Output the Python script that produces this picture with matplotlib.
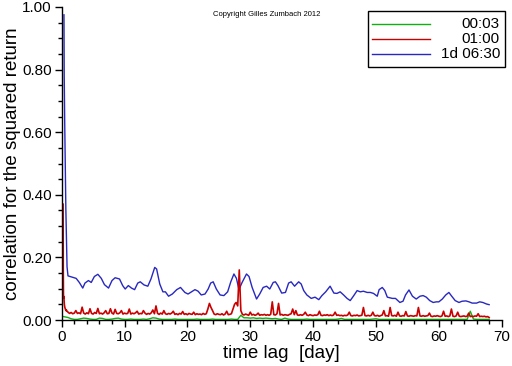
import numpy as np
import matplotlib
matplotlib.use("Agg")
import matplotlib.pyplot as plt
from matplotlib.lines import Line2D
from matplotlib.patches import Rectangle
from matplotlib.ticker import MultipleLocator, FormatStrFormatter

plt.rcParams["font.family"] = "Liberation Sans"

# ---------------------------------------------------------------------------
# Data
# ---------------------------------------------------------------------------

series_labels = ["00:03", "01:00", "1d 06:30"]
series_colors = ["#10b010", "#c80000", "#2828c0"]

# 1d 06:30 returns
blue_lag = [
    0.36, 0.4, 0.48, 0.66, 0.85, 1.0, 2.3, 2.8, 3.35, 3.7,
    4.25, 4.7, 5.2, 5.75, 6.3, 6.8, 7.45, 8.0, 8.5, 9.2,
    9.7, 10.1, 10.6, 11.1, 11.6, 12.1, 12.5, 13.1, 13.7, 14.2,
    14.8, 15.1, 15.6, 16.1, 16.5, 17.0, 17.6, 18.3, 18.9, 19.6,
    20.1, 20.65, 21.2, 21.7, 22.2, 22.8, 23.3, 23.7, 24.1, 24.6,
    25.2, 25.8, 26.4, 26.9, 27.4, 27.8, 28.2, 28.7, 29.4, 29.8,
    30.3, 31.0, 31.5, 32.05, 32.6, 33.1, 33.65, 34.0, 34.4, 35.0,
    35.6, 36.1, 36.5, 37.05, 37.7, 38.1, 38.5, 39.0, 39.7, 40.3,
    40.9, 41.4, 42.0, 42.7, 43.3, 43.8, 44.3, 44.85, 45.4, 45.9,
    46.4, 47.0, 47.5, 48.0, 48.6, 49.1, 49.6, 50.2, 50.5, 51.0,
    51.4, 51.8, 52.6, 53.1, 53.8, 54.3, 54.7, 55.25, 55.8, 56.4,
    57.0, 57.5, 58.0, 58.55, 59.1, 59.6, 60.0, 60.55, 61.1, 61.6,
    62.05, 62.6, 63.2, 63.7, 64.3, 64.8, 65.3, 66.0, 66.5, 67.0,
    67.6, 68.0,
]
blue_corr = [
    0.975, 0.78, 0.63, 0.355, 0.17, 0.141, 0.133, 0.120, 0.102, 0.118,
    0.126, 0.120, 0.139, 0.146, 0.133, 0.113, 0.102, 0.126, 0.135, 0.131,
    0.110, 0.099, 0.110, 0.102, 0.097, 0.118, 0.122, 0.112, 0.108, 0.131,
    0.168, 0.163, 0.115, 0.090, 0.090, 0.076, 0.083, 0.097, 0.104, 0.088,
    0.083, 0.090, 0.097, 0.092, 0.080, 0.083, 0.099, 0.118, 0.122, 0.099,
    0.080, 0.078, 0.090, 0.122, 0.147, 0.133, 0.097, 0.120, 0.147, 0.139,
    0.104, 0.067, 0.083, 0.104, 0.108, 0.099, 0.120, 0.122, 0.110, 0.086,
    0.088, 0.118, 0.122, 0.108, 0.122, 0.115, 0.094, 0.080, 0.069, 0.073,
    0.065, 0.078, 0.090, 0.108, 0.086, 0.085, 0.090, 0.080, 0.069, 0.062,
    0.076, 0.094, 0.090, 0.092, 0.088, 0.088, 0.085, 0.076, 0.097, 0.104,
    0.094, 0.073, 0.069, 0.069, 0.056, 0.060, 0.080, 0.096, 0.076, 0.067,
    0.076, 0.078, 0.073, 0.062, 0.056, 0.058, 0.058, 0.067, 0.080, 0.088,
    0.076, 0.062, 0.056, 0.060, 0.061, 0.058, 0.054, 0.054, 0.058, 0.056,
    0.051, 0.049,
]

# 01:00 returns: first day at hourly lags, then every 6 hours
red_lag_first_day = [0.22, 0.25, 0.28, 0.31, 0.34, 0.38, 0.42,
                     0.46, 0.5, 0.58, 0.67, 0.75, 0.83, 0.92]
red_corr_first_day = [0.37, 0.16, 0.08, 0.07, 0.075, 0.06, 0.05,
                      0.045, 0.04, 0.035, 0.03, 0.032, 0.028, 0.027]
red_corr = [
    0.025, 0.021, 0.024, 0.020, 0.022, 0.030, 0.021, 0.023, 0.020, 0.041,  # 1 - 3.75
    0.022, 0.019, 0.023, 0.020, 0.036, 0.021, 0.019, 0.024, 0.021, 0.037,
    0.020, 0.022, 0.019, 0.023, 0.030, 0.020, 0.021, 0.036, 0.022, 0.019,
    0.034, 0.021, 0.020, 0.023, 0.030, 0.019, 0.022, 0.020, 0.021, 0.035,
    0.019, 0.022, 0.020, 0.023, 0.028, 0.019, 0.021, 0.020, 0.030, 0.022,
    0.018, 0.021, 0.019, 0.023, 0.032, 0.020, 0.045, 0.021, 0.018, 0.022,
    0.019, 0.030, 0.020, 0.018, 0.021, 0.019, 0.022, 0.028, 0.018, 0.020,
    0.017, 0.021, 0.019, 0.027, 0.018, 0.020, 0.017, 0.021, 0.019, 0.018,
    0.025, 0.017, 0.020, 0.018, 0.019, 0.017, 0.021, 0.018, 0.020, 0.035,
    0.053, 0.040, 0.030, 0.019, 0.017, 0.020, 0.018, 0.017, 0.020, 0.016,
    0.019, 0.028, 0.017, 0.018, 0.020, 0.035, 0.050, 0.056, 0.045, 0.160,
    0.030, 0.018, 0.016, 0.019, 0.017, 0.015, 0.025, 0.016, 0.018, 0.015,
    0.017, 0.022, 0.015, 0.017, 0.016, 0.018, 0.015, 0.017, 0.015, 0.018,
    0.058, 0.017, 0.016, 0.020, 0.053, 0.016, 0.018, 0.015, 0.017, 0.016,
    0.015, 0.018, 0.020, 0.035, 0.017, 0.030, 0.016, 0.015, 0.017, 0.015,
    0.018, 0.025, 0.016, 0.014, 0.017, 0.015, 0.014, 0.016, 0.015, 0.017,
    0.028, 0.015, 0.014, 0.016, 0.015, 0.017, 0.014, 0.016, 0.014, 0.016,
    0.025, 0.015, 0.016, 0.014, 0.015, 0.013, 0.015, 0.014, 0.016, 0.025,
    0.014, 0.013, 0.015, 0.014, 0.016, 0.013, 0.014, 0.015, 0.040, 0.014,
    0.013, 0.015, 0.013, 0.015, 0.025, 0.014, 0.013, 0.015, 0.012, 0.014,
    0.016, 0.030, 0.013, 0.014, 0.012, 0.040, 0.014, 0.013, 0.015, 0.012,
    0.025, 0.013, 0.012, 0.014, 0.013, 0.027, 0.013, 0.012, 0.014, 0.013,
    0.012, 0.014, 0.013, 0.040, 0.013, 0.012, 0.014, 0.012, 0.013, 0.014,
    0.022, 0.012, 0.011, 0.013, 0.012, 0.014, 0.012, 0.011, 0.013, 0.028,
    0.012, 0.013, 0.011, 0.013, 0.035, 0.012, 0.011, 0.013, 0.025, 0.012,
    0.011, 0.012, 0.013, 0.011, 0.012, 0.022, 0.011, 0.012, 0.011, 0.013,
    0.012, 0.020, 0.011, 0.012, 0.011, 0.012, 0.010, 0.011, 0.008,
]
red_lag = red_lag_first_day + list(np.arange(1.0, 68.01, 0.25))
red_corr = red_corr_first_day + red_corr

# 00:03 returns, every half day
green_lag = list(np.arange(0.0, 68.01, 0.5))
green_corr = [
    0.012, 0.010, 0.008, 0.004, 0.002, 0.002, 0.004, 0.006, 0.005, 0.003,
    0.002, 0.002, 0.006, 0.005, 0.002, 0.002, 0.003, 0.005, 0.006, 0.003,
    0.002, 0.002, 0.003, 0.002, 0.002, 0.002, 0.003, 0.002, 0.004, 0.007,
    0.006, 0.003, 0.002, 0.002, 0.002, 0.002, 0.003, 0.002, 0.002, 0.002,
    0.002, 0.002, 0.002, 0.003, 0.002, 0.002, 0.002, 0.002, 0.003, 0.002,
    0.002, 0.002, 0.002, 0.002, 0.003, 0.002, 0.002, 0.015, 0.007, 0.007,
    0.006, 0.007, 0.005, 0.006, 0.005, 0.006, 0.005, 0.004, 0.005, 0.003,
    0.002, 0.006, 0.003, 0.002, 0.002, 0.002, 0.002, 0.002, 0.003, 0.002,
    0.002, 0.002, 0.002, 0.002, 0.002, 0.002, 0.002, 0.002, 0.003, 0.005,
    0.002, 0.002, 0.002, 0.002, 0.002, 0.002, 0.002, 0.002, 0.002, 0.003,
    0.004, 0.002, 0.002, 0.002, 0.002, 0.002, 0.002, 0.002, 0.002, 0.002,
    0.002, 0.002, 0.002, 0.002, 0.002, 0.002, 0.002, 0.002, 0.002, 0.002,
    0.002, 0.002, 0.002, 0.002, 0.002, 0.002, 0.002, 0.002, 0.002, 0.002,
    0.028, 0.003, 0.002, 0.002, 0.002, 0.002, 0.002,
]

# ---------------------------------------------------------------------------
# Figure
# ---------------------------------------------------------------------------

W, H = 512, 366
fig = plt.figure(figsize=(W / 100, H / 100), dpi=100)
ax = fig.add_axes([61.7 / W, 1 - 320 / H, 440 / W, 313 / H])

ax.plot(blue_lag, blue_corr, color=series_colors[2], linewidth=1.0, zorder=2)
ax.plot(green_lag, green_corr, color=series_colors[0], linewidth=1.0, zorder=2)
ax.plot(red_lag, red_corr, color=series_colors[1], linewidth=1.2, zorder=2)

ax.set_xlim(0, 70)
ax.set_ylim(0, 1.0)
ax.xaxis.set_major_locator(MultipleLocator(10))
ax.xaxis.set_minor_locator(MultipleLocator(2))
ax.yaxis.set_major_locator(MultipleLocator(0.2))
ax.yaxis.set_minor_locator(MultipleLocator(0.05))
ax.yaxis.set_major_formatter(FormatStrFormatter("%.2f"))

for side in ("top", "right"):
    ax.spines[side].set_visible(False)
for side in ("left", "bottom"):
    ax.spines[side].set_linewidth(1.0)
    ax.spines[side].set_color("black")

ax.tick_params(which="major", direction="out", length=5, width=1,
               labelsize=11, pad=2)
ax.tick_params(which="minor", direction="out", length=3, width=1)

ax.set_xlabel("time lag  [day]", fontsize=13.5, labelpad=1)
ax.set_ylabel("correlation for the squared return", fontsize=13.5, labelpad=1)

fig.text(267 / W, 1 - 15 / H, "Copyright Gilles Zumbach 2012",
         ha="center", va="center", fontsize=5.5)

# --- legend box drawn by hand (labels are right aligned) ---
bx0, by0, bx1, by1 = 368, 11, 505, 67
fig.add_artist(Rectangle((bx0 / W, 1 - by1 / H), (bx1 - bx0) / W,
                         (by1 - by0) / H, transform=fig.transFigure,
                         facecolor="white", edgecolor="black", linewidth=1.0))
for i, (label, color) in enumerate(zip(series_labels, series_colors)):
    yy = 1 - (24 + 15 * i) / H
    fig.add_artist(Line2D([372 / W, 430 / W], [yy, yy], color=color,
                          linewidth=1.0, transform=fig.transFigure))
    fig.text(500 / W, yy, label, ha="right", va="center", fontsize=11)

fig.savefig("out.png", dpi=100, facecolor="white")
